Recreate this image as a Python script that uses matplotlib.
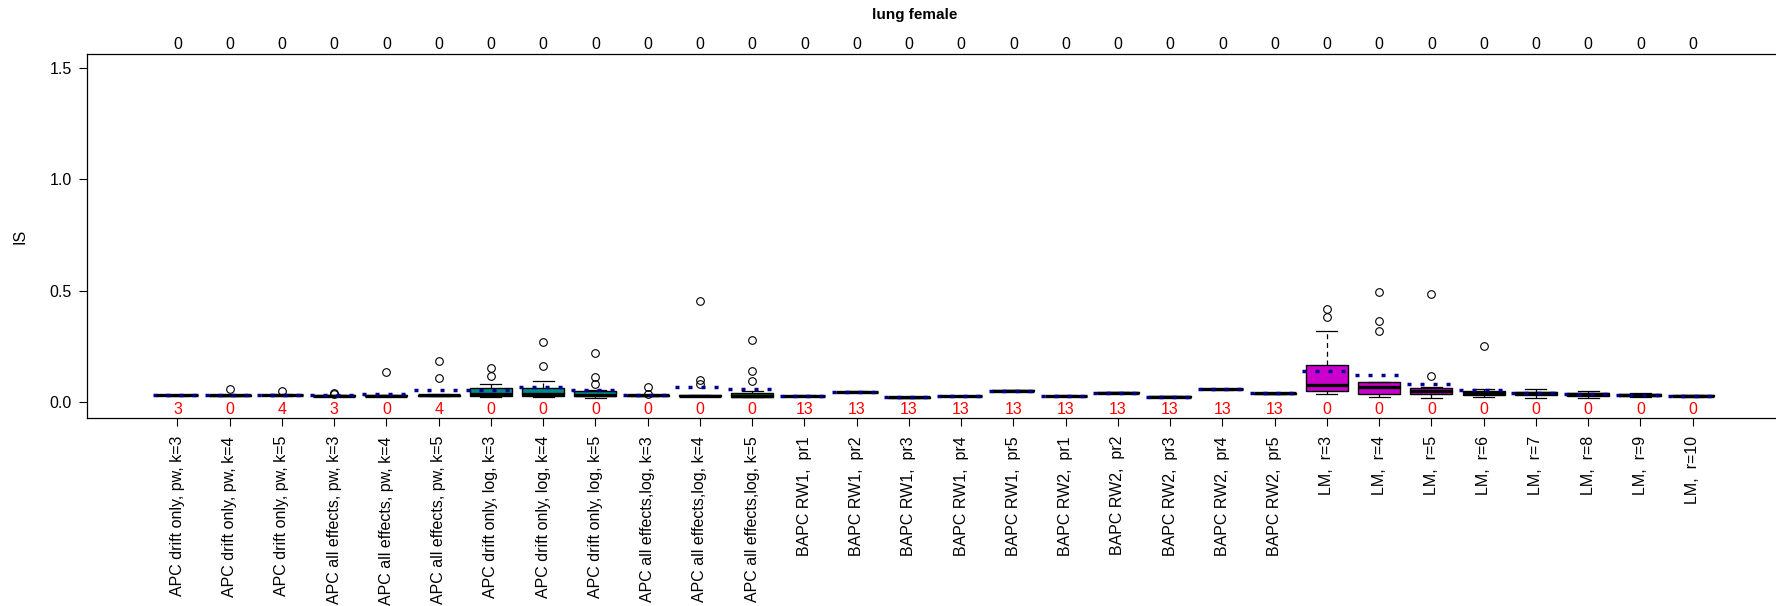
import matplotlib
matplotlib.use("Agg")
from matplotlib import pyplot as plt

plt.rcParams['font.family'] = ['Liberation Sans', 'DejaVu Sans']

# model names (x axis)
labels = ["APC drift only, pw, k=3", "APC drift only, pw, k=4", "APC drift only, pw, k=5",
          "APC all effects, pw, k=3", "APC all effects, pw, k=4", "APC all effects, pw, k=5",
          "APC drift only, log, k=3", "APC drift only, log, k=4", "APC drift only, log, k=5",
          "APC all effects,log, k=3", "APC all effects,log, k=4", "APC all effects,log, k=5",
          "BAPC RW1,  pr1", "BAPC RW1,  pr2", "BAPC RW1,  pr3", "BAPC RW1,  pr4",
          "BAPC RW1,  pr5", "BAPC RW2,  pr1", "BAPC RW2,  pr2", "BAPC RW2,  pr3",
          "BAPC RW2,  pr4", "BAPC RW2,  pr5",
          "LM,  r=3", "LM,  r=4", "LM,  r=5", "LM,  r=6", "LM,  r=7", "LM,  r=8", "LM,  r=9", "LM,  r=10"]

# box statistics
med = [.031, .030, .031, .029, .029, .030, .035, .035, .033, .030, .028, .028,
       .028, .046, .021, .027, .051, .028, .042, .024, .058, .039,
       .076, .067, .049, .042, .039, .034, .031, .028]
q1 = [.030, .029, .030, .028, .028, .029, .027, .027, .026, .029, .027, .024,
      .027, .045, .020, .026, .050, .027, .041, .023, .057, .038,
      .049, .037, .034, .033, .030, .028, .027, .026]
q3 = [.032, .031, .032, .030, .031, .032, .063, .063, .048, .031, .030, .040,
      .029, .047, .022, .028, .052, .029, .043, .025, .059, .040,
      .166, .088, .061, .049, .046, .039, .037, .031]
wlo = [.029, .028, .029, .027, .027, .028, .022, .022, .020, .027, .026, .022,
       .026, .044, .019, .025, .049, .026, .040, .022, .056, .037,
       .035, .024, .018, .021, .018, .019, .022, .024]
whi = [.033, .033, .034, .031, .033, .034, .082, .096, .052, .033, .032, .048,
       .030, .048, .023, .029, .053, .030, .044, .026, .060, .041,
       .317, .091, .069, .060, .057, .048, .039, .033]
outliers = [[], [.060], [.048], [.036, .041], [.133], [.109, .185],
            [.117, .153], [.163, .269], [.082, .112, .221],
            [.036, .066], [.082, .100, .455], [.094, .141, .278],
            [], [], [], [], [], [], [], [], [], [],
            [.383, .416], [.321, .362, .492], [.117, .486], [.251], [], [], [], []]
means = [.031, .031, .032, .030, .036, .052, .054, .066, .055, .030, .066, .058,
         .028, .046, .021, .027, .051, .028, .042, .024, .058, .039,
         .139, .120, .079, .055, .039, .034, .031, .028]

# counts printed under the boxes (red) and above the plot
n_below = [3, 0, 4, 3, 0, 4, 0, 0, 0, 0, 0, 0, 13, 13, 13, 13, 13, 13, 13, 13, 13, 13,
           0, 0, 0, 0, 0, 0, 0, 0]
n_above = [0] * 30

colors = (['#1a1a1a'] * 6 + ['#008B8B'] * 3 + ['#006400'] * 3 + ['white'] * 10
          + ['#CC00CC'] * 8)

FS = 11.5
pos = list(range(1, 31))
stats = []
for i in range(30):
    stats.append(dict(med=med[i], q1=q1[i], q3=q3[i], whislo=wlo[i], whishi=whi[i],
                      fliers=outliers[i]))

fig = plt.figure(figsize=(17.76, 6.06), dpi=100)
ax = fig.add_axes([87 / 1776, 1 - 418 / 606, 1696 / 1776, 364 / 606])

bp = ax.bxp(stats, positions=pos, widths=0.8, capwidths=0.4, patch_artist=True,
            manage_ticks=False,
            boxprops=dict(edgecolor='black', linewidth=1.0),
            whiskerprops=dict(color='black', linewidth=0.9, linestyle=(0, (4, 3))),
            capprops=dict(color='black', linewidth=0.9),
            medianprops=dict(color='black', linewidth=2.4, solid_capstyle='butt'),
            flierprops=dict(marker='o', markerfacecolor='none', markeredgecolor='black',
                            markersize=5.5, markeredgewidth=0.8))
for box, c in zip(bp['boxes'], colors):
    box.set_facecolor(c)

# dotted mean lines
for x, m in zip(pos, means):
    ax.plot([x - 0.47, x + 0.47], [m, m], color='#00008B', linewidth=2.5,
            linestyle=(0, (1.15, 2.6)), dash_capstyle='butt', zorder=5)

for x, n in zip(pos, n_below):
    ax.text(x, -0.032, str(n), color='red', ha='center', va='center', fontsize=FS)
for x, n in zip(pos, n_above):
    ax.annotate(str(n), xy=(x, 1), xycoords=('data', 'axes fraction'), xytext=(0, 6.5),
                textcoords='offset points', ha='center', va='center', fontsize=FS)

ax.set_xlim(-0.73, 31.73)
ax.set_ylim(-0.072, 1.563)
ax.set_yticks([0, 0.5, 1.0, 1.5])
ax.set_yticklabels(["0.0", "0.5", "1.0", "1.5"])
ax.set_xticks(pos)
ax.set_xticklabels(labels, rotation=90, va='top', ha='center')
ax.tick_params(direction='out', length=6, width=0.8, labelsize=FS)
ax.tick_params(axis='x', pad=7)
ax.tick_params(axis='y', pad=5)
for s in ax.spines.values():
    s.set_linewidth(0.9)
ax.set_ylabel("IS", fontsize=FS)
ax.yaxis.set_label_coords(-0.035, 0.5)
fig.text(915 / 1776, 1 - 15 / 606, "lung female", ha='center', va='center',
         fontsize=11, fontweight='bold')

plt.savefig("out.png", dpi=100)
